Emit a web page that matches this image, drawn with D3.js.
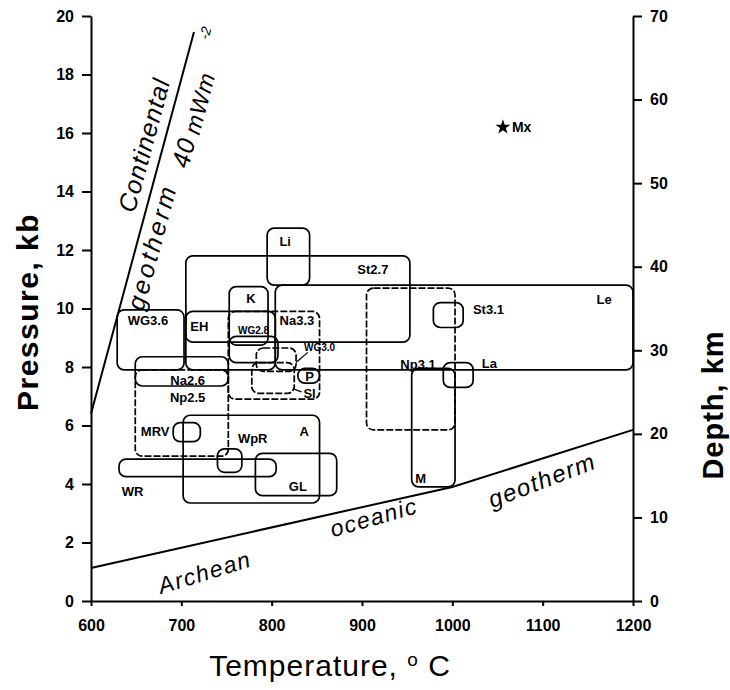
<!DOCTYPE html>
<html>
<head>
<meta charset="utf-8">
<script src="https://cdn.jsdelivr.net/npm/d3@7"></script>
<style>
  body { margin: 0; background: #fff; }
  svg text { font-family: "Liberation Sans", Arial, sans-serif; fill: #000; }
</style>
</head>
<body>
<div id="chart"></div>
<script>
// P-T boxes, temperature in deg C, pressure in kb
const regionNames = ["Li", "St2.7", "K", "Le", "WG3.6", "EH", "Na3.3", "WG2.8", "WG3.0", "Sl", "P",
  "Na2.6", "Np2.5", "MRV", "A", "WpR", "WR", "GL", "Np3.1", "M", "St3.1", "La"];
const tempLow  = [795, 705, 753, 804, 629, 705, 752, 753, 783, 778, 829, 649, 649, 691, 702, 740, 631, 782, 905, 955, 979, 990];
const tempHigh = [842, 953, 796, 1200, 703, 804, 853, 807, 827, 825, 853, 752, 752, 721, 853, 767, 805, 872, 1003, 1003, 1012, 1023];
const presLow  = [10.8, 8.85, 8.75, 7.9, 7.9, 7.9, 6.9, 8.15, 7.85, 7.1, 7.45, 7.35, 4.95, 5.45, 3.35, 4.4, 4.25, 3.6, 5.85, 3.9, 9.35, 7.3];
const presHigh = [12.75, 11.8, 10.75, 10.8, 9.95, 9.9, 9.9, 9.05, 8.65, 8.15, 7.95, 8.35, 7.9, 6.1, 6.35, 5.2, 4.85, 5.05, 10.7, 7.95, 10.2, 8.15];
const dashedRegions = ["Na3.3", "WG3.0", "Sl", "Np2.5", "Np3.1"];

// single point estimate
const mxTemp = 1056, mxPres = 16.2;

// geotherms
const contTemp = [600, 714];
const contPres = [6.4, 19.45];
const archTemp = [600, 1000, 1200];
const archPres = [1.13, 3.9, 5.85];

// ticks
const tempTicks = [600, 700, 800, 900, 1000, 1100, 1200];
const presTicks = [0, 2, 4, 6, 8, 10, 12, 14, 16, 18, 20];
const depthTicks = [0, 10, 20, 30, 40, 50, 60, 70];

// where each box label sits (temperature, pressure)
const labelTemp = [815, 912, 777, 1168, 663, 720, 828, 780, 853, 842, 842, 707, 707, 671, 836, 779, 646, 829, 962, 965, 1040, 1041];
const labelPres = [12.3, 11.35, 10.35, 10.3, 9.6, 9.37, 9.6, 9.25, 8.65, 7.1, 7.66, 7.55, 6.95, 5.78, 5.8, 5.57, 3.76, 3.93, 8.1, 4.2, 9.98, 8.12];
const smallLabels = ["WG2.8", "WG3.0"];

const width = 730, height = 690;
const svg = d3.select("#chart").append("svg")
  .attr("width", width)
  .attr("height", height);

const x = d3.scaleLinear().domain([600, 1200]).range([91, 633]);
const y = d3.scaleLinear().domain([0, 20]).range([601, 16]);
const yDepth = d3.scaleLinear().domain([0, 70]).range([601, 16]);

/* axes */
const leftAxis = svg.append("g")
  .attr("transform", "translate(91,0)")
  .call(d3.axisLeft(y).tickValues(presTicks).tickSize(9).tickSizeOuter(0).tickPadding(8));
const rightAxis = svg.append("g")
  .attr("transform", "translate(633,0)")
  .call(d3.axisRight(yDepth).tickValues(depthTicks).tickSize(9).tickSizeOuter(0).tickPadding(8));
const bottomAxis = svg.append("g")
  .attr("transform", "translate(0,601)")
  .call(d3.axisBottom(x).tickValues(tempTicks).tickFormat(d3.format("d"))
    .tickSize(5).tickSizeOuter(0).tickPadding(14));

[leftAxis, rightAxis, bottomAxis].forEach(function(a) {
  a.selectAll("path, line").attr("stroke", "#000").attr("stroke-width", 2);
  a.selectAll("text")
    .style("font-size", "16px")
    .style("font-weight", "bold")
    .style("font-family", "'Liberation Sans', Arial, sans-serif");
});

/* axis titles */
svg.append("text")
  .attr("transform", "translate(38,312) rotate(-90)")
  .attr("text-anchor", "middle")
  .style("font-size", "30px")
  .style("font-weight", "bold")
  .style("letter-spacing", "1.5px")
  .text("Pressure, kb");

svg.append("text")
  .attr("transform", "translate(723,405) rotate(-90)")
  .attr("text-anchor", "middle")
  .style("font-size", "29px")
  .style("font-weight", "bold")
  .style("letter-spacing", "1px")
  .text("Depth, km");

const tTitle = svg.append("text")
  .attr("x", 330)
  .attr("y", 676)
  .attr("text-anchor", "middle")
  .style("font-size", "30px")
  .style("letter-spacing", "1px");
tTitle.append("tspan").text("Temperature, ");
tTitle.append("tspan").attr("dy", -10).style("font-size", "19px").text("o");
tTitle.append("tspan").attr("dy", 10).text(" C");

/* geotherm lines */
const line = d3.line().x(function(d) { return x(d[0]); }).y(function(d) { return y(d[1]); });
svg.append("path")
  .datum(contTemp.map(function(t, i) { return [t, contPres[i]]; }))
  .attr("d", line)
  .attr("fill", "none").attr("stroke", "#000").attr("stroke-width", 2);
svg.append("path")
  .datum(archTemp.map(function(t, i) { return [t, archPres[i]]; }))
  .attr("d", line)
  .attr("fill", "none").attr("stroke", "#000").attr("stroke-width", 2);

// text written along the continental geotherm; py is a pixel row on the line
const contX = d3.scaleLinear().domain([y(contPres[0]), y(contPres[1])]).range([x(contTemp[0]), x(contTemp[1])]);
const contAngle = Math.atan2(y(contPres[1]) - y(contPres[0]), x(contTemp[1]) - x(contTemp[0])) * 180 / Math.PI;
function alongCont(txt, py, off, size, spacing) {
  return svg.append("text")
    .attr("transform", "translate(" + contX(py) + "," + py + ") rotate(" + contAngle + ")")
    .attr("y", off)
    .attr("text-anchor", "middle")
    .style("font-size", size + "px")
    .style("font-style", "italic")
    .style("letter-spacing", spacing + "px")
    .text(txt);
}
alongCont("Continental", 150, -10, 25, 1);
alongCont("geotherm", 243, 24, 25, 3);
alongCont("40", 147, 30, 25, 1);
alongCont("mWm", 97, 32, 23, 1);
alongCont("-2", 30, 16, 14, 0);

function slanted(txt, px, py, angle, size) {
  svg.append("text")
    .attr("transform", "translate(" + px + "," + py + ") rotate(" + angle + ")")
    .attr("text-anchor", "middle")
    .style("font-size", size + "px")
    .style("font-style", "italic")
    .style("letter-spacing", "1.5px")
    .text(txt);
}
slanted("Archean", 207, 580, -17, 23);
slanted("oceanic", 376, 525, -16, 23);
slanted("geotherm", 545, 488, -21, 24);

/* region boxes */
const regions = regionNames.map(function(n, i) {
  return { name: n, t0: tempLow[i], t1: tempHigh[i], p0: presLow[i], p1: presHigh[i],
           lt: labelTemp[i], lp: labelPres[i] };
});

svg.selectAll("rect.region")
  .data(regions)
  .enter()
  .append("rect")
    .attr("class", "region")
    .attr("x", function(d) { return x(d.t0); })
    .attr("y", function(d) { return y(d.p1); })
    .attr("width", function(d) { return x(d.t1) - x(d.t0); })
    .attr("height", function(d) { return y(d.p0) - y(d.p1); })
    .attr("rx", 7)
    .attr("ry", 7)
    .attr("fill", "none")
    .attr("stroke", "#000")
    .attr("stroke-width", 1.7)
    .attr("stroke-dasharray", function(d) { return dashedRegions.indexOf(d.name) >= 0 ? "7,2" : null; });

svg.selectAll("text.region")
  .data(regions)
  .enter()
  .append("text")
    .attr("class", "region")
    .attr("x", function(d) { return x(d.lt); })
    .attr("y", function(d) { return y(d.lp); })
    .attr("text-anchor", "middle")
    .attr("dy", "0.35em")
    .style("font-size", function(d) { return smallLabels.indexOf(d.name) >= 0 ? "10px" : "13px"; })
    .style("font-weight", "bold")
    .text(function(d) { return d.name; });

// leader lines for labels that sit outside their box
svg.append("line")
  .attr("x1", x(840)).attr("y1", y(8.5)).attr("x2", x(827)).attr("y2", y(8.15))
  .attr("stroke", "#000").attr("stroke-width", 1.3);
svg.append("line")
  .attr("x1", x(833)).attr("y1", y(7.15)).attr("x2", x(824)).attr("y2", y(7.25))
  .attr("stroke", "#000").attr("stroke-width", 1.3);

/* Mx point */
svg.append("path")
  .attr("d", d3.symbol().type(d3.symbolStar).size(70)())
  .attr("transform", "translate(" + x(mxTemp) + "," + y(mxPres) + ")")
  .attr("fill", "#000");
svg.append("text")
  .attr("x", x(mxTemp) + 9)
  .attr("y", y(mxPres))
  .attr("dy", "0.35em")
  .style("font-size", "14px")
  .style("font-weight", "bold")
  .text("Mx");
</script>
</body>
</html>
